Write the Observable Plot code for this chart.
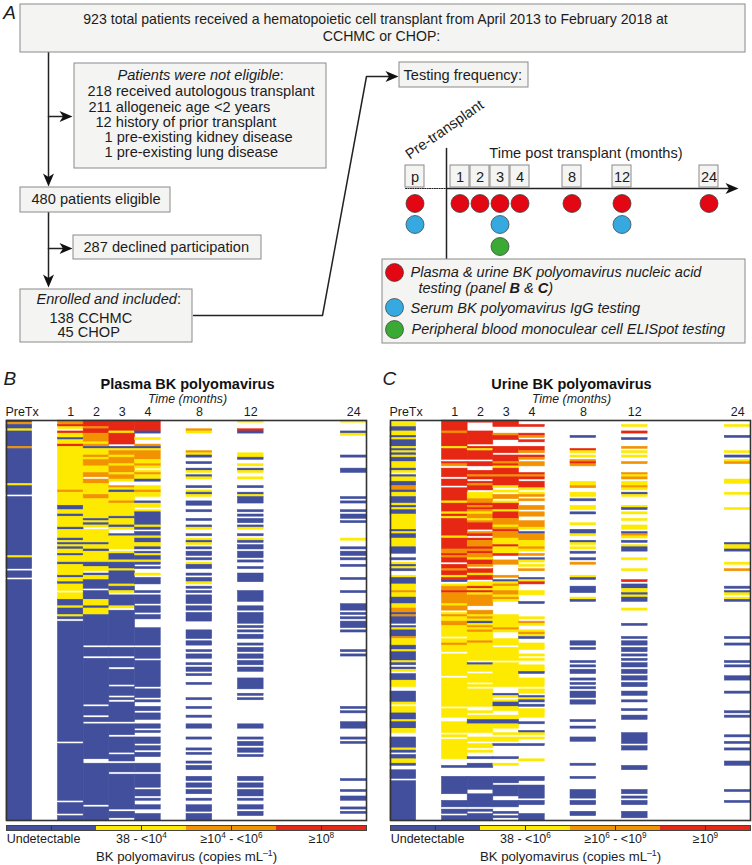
<!DOCTYPE html>
<html><head><meta charset="utf-8">
<script src="https://cdn.jsdelivr.net/npm/d3@7"></script>
<script src="https://cdn.jsdelivr.net/npm/@observablehq/plot@0.6"></script>
<style>
html,body{margin:0;padding:0;background:#fff}
#page{position:relative;width:752px;height:865px;overflow:hidden}
#page svg{position:absolute;background:transparent !important;font-family:"Liberation Sans",Arial,sans-serif !important;overflow:visible}
</style></head><body><div id="page"></div>
<script>
// ---------- data: every string lists "startRow+level" runs (u undetectable, y low, o mid, r high, _ no sample)
const columns = ["PreTx","gapA","1","2","3","4","gapB","8","gapC","12","gapD","gapE","gapF","24"];
const monthLabels = ["1","2","3","4","8","12","24"];
const levels = ["u","y","o","r"];
const levelColors = ["#414f9c","#fdea00","#f39200","#e52713"];

const plasmaPreTx = "0u 1o 2u 4y 5u 12o 13u 29y 30u 34_ 35u 62y 63u 68_ 69u 72_ 73u";
const plasmaM1 = "0o 2r 3y 4_ 5r 6y 8u 9y 11r 12y 32o 33y 39u 41y 43u 44y 49u 50y 54u 55y 56u 57y 58u 59y 61u 62y 65u 66y 71u 72y 74u 75y 78_ 79y 82u 85y 86u 89y 90u 91_ 92u 147_ 148u 174_ 175u 180_ 181u";
const plasmaM2 = "0r 3o 4r 6o 10y 11o 12u 13y 16o 17y 18o 21y 24o 26_ 27o 29y 34o 36y 45u 46y 47u 48y 49_ 50y 56u 57y 59u 60y 65u 67y 69_ 70u 71y 73u 77_ 78u 82y 85u 86y 89u 103_ 104u 108_ 109u 130_ 131u 135_ 136u 138_ 139u 155_ 157u 176_ 177u";
const plasmaM3 = "0r 5y 6r 11_ 12u 13y 14o 16y 17o 20y 21o 24y 25o 27y 28_ 30o 31y 32u 33y 37o 38y 44u 45y 48u 49y 50_ 52u 53y 59_ 60y 61u 64y 65u 68y 69u 75y 76u 78y 79_ 80u 85y 86_ 87u 103_ 104u 108_ 109u 113_ 114u 121_ 122u 126_ 127u 128_ 129u 138_ 139u 144_ 145u 152_ 153u 156_ 157u 161_ 162u 178_ 179u 182_";
const plasmaM4 = "0r 5u 6_ 8y 9_ 11o 12u 13y 14o 18y 20o 21y 22_ 23y 24o 25y 27u 28_ 30y 32o 33y 35_ 37u 38y 40_ 41y 42u 48y 49u 50_ 51u 53y 54u 56y 58u 59_ 60u 61y 62u 64y 65u 66_ 67u 68_ 70y 71_ 72u 75_ 78u 79_ 80u 84_ 85u 88_ 89u 91_ 95u 103_ 104u 109_ 110u 122_ 123u 127_ 128u 129_ 131u 133_ 134u 137_ 139u 141_ 142u 143_ 145u 148_ 149u 151_ 152u 154_ 157u 161_ 162u 168_ 169u 172_ 173u 174_ 176u 178_ 180u";
const plasmaM8 = "4o 5y 6_ 14o 15y 16u 17_ 19u 20_ 22u 23y 24_ 25u 26y 27_ 30u 31_ 32y 33u 34y 35_ 37u 39_ 41u 42_ 45u 46_ 48u 49y 50_ 52u 53_ 54y 55u 56y 57_ 58u 59_ 60u 62_ 63u 64_ 65y 66u 68_ 70u 71_ 72u 74y 75_ 76u 77_ 78u 79_ 80u 84_ 85u 87_ 88u 92_ 96u 100_ 101u 103_ 105u 106_ 107u 109_ 111u 112_ 113u 115_ 116u 117_ 120u 121_ 127u 128_ 131u 132_ 135u 136_ 139u 141_ 145u 146_ 150u 151_ 152u 153_ 156u 157_ 158u 160_ 163u 165_ 166u 168_ 169u 171_ 173u 174_ 176u 179_ 180u 183_";
const plasmaM12 = "0y 1_ 4r 5u 6_ 15y 17u 18_ 20y 21_ 22u 23y 24_ 26y 27_ 30u 31_ 33u 34y 35u 38_ 41u 42_ 43u 44_ 45u 47_ 48u 49y 50_ 52u 53_ 54y 55u 56_ 57u 59_ 60u 62_ 62u 63_ 64u 65_ 67u 68_ 70u 74_ 78u 83_ 85u 87_ 88u 93_ 94u 95_ 96u 97_ 98u 100_ 102u 103_ 104u 106_ 107u 109_ 110u 112_ 113u 115_ 118u 123_ 125u 126_ 127u 128_ 139u 141_ 145u 146_ 147u 149_ 150u 152_ 153u 154_ 163u 165_ 166u 168_ 169u 172_ 173u 174_ 176u 178_ 179u 181_";
const plasmaM24 = "0y 1_ 5u 6y 7_ 16u 17_ 22u 24_ 35u 36_ 37u 38_ 41u 42_ 43u 45_ 46u 47_ 54y 55_ 58u 59_ 60u 62_ 63u 64_ 66u 67_ 72u 73_ 78u 79_ 84u 87_ 88u 89_ 90u 91_ 92u 95_ 96u 97_ 105u 106_ 107u 108_ 131u 132_ 133u 134_ 138u 141_ 145u 146_ 147u 148_ 164u 165_ 169u 170_ 172u 174_ 177u 178_ 179u 180_";

const urinePreTx = "0_ 1y 3u 5y 7u 8y 9u 12y 13u 14y 15u 16y 17u 19y 22u 23y 24_ 25u 26y 28u 30o 32u 33y 35u 38y 39u 40y 41u 43y 50u 51y 52u 54y 58u 61_ 63u 64_ 65y 66u 67y 68u 69_ 71y 72u 74u 75y 78o 79y 81u 84y 86o 87y 87o 88u 89o 90u 93_ 94u 95y 96u 99o 100y 103u 105y 106u 110y 111u 112_ 113u 114y 115_ 116u 119y 122_ 124u 129y 130_ 131y 134u 137y 138u 141y 143_ 145u 150y 151u 152_ 153u 155y 157u 158_ 160u 164_ 165u";
const urineM1 = "0r 5o 6r 12y 13r 18_ 19r 20o 21_ 22r 26_ 27r 30_ 31r 37y 38r 42y 43r 44y 45r 53y 54r 59o 61r 62o 63r 65_ 66r 68o 69r 71y 72r 73u 74_ 75y 76o 78r 79o 84y 85o 87_ 88y 89o 90y 92o 94y 99_ 100y 102o 103y 106_ 107y 117_ 118y 131_ 132y 136_ 138y 143_ 144y 145_ 146y 155_ 158u 159_ 163u 171_ 174u 177_ 178u 180_ 181u";
const urineM2 = "0r 1_ 5r 11_ 12r 13y 14r 18_ 19r 21_ 23r 25o 26r 27_ 28r 29o 30r 32_ 33y 36o 38r 39o 40r 41o 42y 43o 45y 46o 47r 50_ 51o 52r 53_ 54r 55o 58r 59o 60r 61o 63y 64r 66o 67_ 68r 70y 71r 73_ 74y 76r 77y 78r 79y 80o 85_ 87o 89y 90o 91y 92u 93y 94o 95y 96o 97y 101o 102y 110_ 111u 112y 115_ 116y 120_ 121y 122_ 123y 131_ 133y 134_ 135y 137u 139y 143_ 145y 147_ 148y 150_ 151y 152_ 154u 155_ 157u 159_ 163u 169_ 171u 177_ 178u 179_ 180u";
const urineM3 = "0r 3_ 6o 7r 9_ 12r 15_ 16r 19o 20r 21y 22r 25o 26r 30y 31_ 32y 33_ 34o 36_ 37y 38r 41y 42r 45o 48y 49o 50r 51o 54y 57r 58y 61r 62_ 64o 66_ 71o 72_ 73u 74y 75o 76y 78o 80y 81o 82y 83_ 89y 95o 96y 97_ 100y 103_ 104y 110_ 111y 122_ 125u 126y 127_ 128y 129u 131y 133_ 135y 137u 139y 141_ 143y 144_ 145y 147_ 148u 149_ 154u 155_ 157y 158_ 163u 166_ 167u 172_ 174u 177_ 179u 180_ 181u 182_";
const urineM4 = "2r 3_ 6r 7o 8_ 9r 10_ 12r 14o 15_ 16r 17o 18_ 19o 21_ 24r 25o 26r 27_ 28r 31y 32_ 33y 34o 35_ 36o 37_ 39o 41_ 42o 44_ 46o 49y 50_ 51u 52o 55y 58o 59y 60_ 61o 62_ 63u 64y 65_ 66y 67_ 68o 69_ 72u 73y 74r 75_ 78y 80_ 83u 84_ 90y 91_ 92o 93y 94_ 96y 97o 98y 99u 100_ 102y 105_ 107y 108_ 109y 110_ 112y 115u 116_ 118y 122_ 123y 125_ 126u 127y 128u 129_ 130u 131_ 132y 136_ 138u 139_ 142u 143y 144_ 145y 146_ 148u 149_ 155y 156_ 163u 165_ 167u 173_ 174u 176_ 180u";
const urineM8 = "7u 8_ 13r 14y 15_ 16y 17_ 18o 19r 20o 21_ 28y 30o 31_ 33y 35_ 36u 37_ 39y 41_ 42u 43_ 47y 48_ 50u 52y 53_ 55u 56y 57_ 58y 59_ 60u 61_ 63u 64_ 65o 66_ 71y 72u 73_ 76u 79_ 81y 82u 83_ 101u 103_ 104u 105_ 110u 111_ 112u 113_ 114u 116_ 118u 119_ 120u 121_ 122u 123_ 124u 127_ 128u 130_ 137u 138_ 140u 141_ 145u 147_ 157u 158_ 163u 164_ 169u 173_ 174u 176_ 179u 181_";
const urineM12 = "2y 3_ 5r 6_ 8u 9_ 12o 13_ 14y 15_ 16y 17_ 19o 20_ 24o 25y 26o 27_ 28y 30o 31y 32_ 33u 34y 35_ 39y 40u 41_ 42y 43_ 45y 46_ 48y 50_ 51u 52o 53y 54_ 55u 56_ 57y 58u 60_ 63y 64_ 68y 69_ 73r 74_ 75u 77y 79u 80y 81u 83_ 86y 87_ 93u 94_ 99u 100_ 101u 103_ 104u 106_ 107u 108_ 109u 110_ 111u 113_ 114u 116_ 117u 119_ 120u 122_ 124u 126_ 128u 129_ 132u 133_ 135u 137_ 143u 148_ 149u 151_ 158u 160_ 169u 171_ 172u 173_ 174u 176_ 179u 182_";
const urineM24 = "2y 3_ 7u 8_ 14y 15_ 16u 17_ 18y 19o 20_ 27y 29_ 33y 34_ 40y 41_ 56u 57y 59u 60_ 65y 66_ 68o 69_ 76u 77_ 78u 79y 80_ 81y 82u 83_ 99u 100_ 102u 103_ 110u 111_ 112u 113_ 117u 119_ 124u 125_ 133u 134_ 135u 136_ 144u 145_ 147u 148_ 150u 151_ 156u 158_ 169u 170_ 174u 175_";

const plasmaColumns = [plasmaPreTx,plasmaM1,plasmaM2,plasmaM3,plasmaM4,plasmaM8,plasmaM12,plasmaM24];
const urineColumns = [urinePreTx,urineM1,urineM2,urineM3,urineM4,urineM8,urineM12,urineM24];
const sampled = ["PreTx","1","2","3","4","8","12","24"];
const patientCount = 183;

const plasmaLegend = ["Undetectable","38 - <10^4^","≥10^4^ - <10^6^","≥10^8^"];
const urineLegend = ["Undetectable","38 - <10^6^","≥10^6^ - <10^9^","≥10^9^"];

const timelineBoxes = ["p","1","2","3","4","8","12","24"];
const pcrTimes = ["p","1","2","3","4","8","12","24"];
const iggTimes = ["p","3","12"];
const elispotTimes = ["3"];

const flowHeader = ["923 total patients received a hematopoietic cell transplant from April 2013 to February 2018 at","CCHMC or CHOP:"];
const flowLines = [
 "218 received autologous transplant","211 allogeneic age <2 years","12 history of prior transplant",
 "1 pre-existing kidney disease","1 pre-existing lung disease",
 "480 patients eligible","287 declined participation","138 CCHMC","45 CHOP","Testing frequency:"];
const flowItalic = ["Patients were not eligible__:__","Enrolled and included__:__"];
const keyLines = ["Plasma & urine BK polyomavirus nucleic acid","testing (panel **B** & **C**)","Serum BK polyomavirus IgG testing","Peripheral blood monoculear cell ELISpot testing"];

// ---------- helpers
const ink = "#1c1c1c";
const page = document.getElementById("page");
function place(svg,left,top){svg.style.left=left+"px";svg.style.top=top+"px";page.appendChild(svg);
  svg.querySelectorAll("text").forEach(rich);return svg;}
function rich(t){
  const host = t.querySelector("tspan") || t;
  const s = host.textContent;
  if(!/\*\*|\^|__/.test(s)) return;
  host.textContent="";
  const fs = parseFloat(t.getAttribute("font-size")||t.parentNode.getAttribute("font-size")||11);
  let pendingDy=0;
  s.split(/(\*\*.+?\*\*|\^.+?\^|__.+?__)/).filter(Boolean).forEach(p=>{
    const n=document.createElementNS("http://www.w3.org/2000/svg","tspan");
    if(pendingDy){n.setAttribute("dy",pendingDy);pendingDy=0;}
    if(p.startsWith("**")){n.textContent=p.slice(2,-2);n.setAttribute("font-weight","bold");}
    else if(p.startsWith("__")){n.textContent=p.slice(2,-2);n.setAttribute("font-style","normal");}
    else if(p.startsWith("^")){n.textContent=p.slice(1,-1);n.setAttribute("font-size",fs*0.66);
      const up=-fs*0.36;n.setAttribute("dy",up);pendingDy=-up;}
    else n.textContent=p;
    host.appendChild(n);
  });
}
// one column string -> runs of equal level, so a run paints as one unbroken bar
function expand(spec,col){
  const tokens=spec.split(" ").map(t=>({start:+t.slice(0,-1),level:t.slice(-1)}));
  const runs=[];
  for(let row=0;row<patientCount;row++){
    let level="_";
    for(const r of tokens) if(r.start<=row) level=r.level;
    const last=runs[runs.length-1];
    if(last&&last.level==level) last.end=row+1;
    else runs.push({col,level,start:row,end:row+1});
  }
  return runs.filter(r=>r.level!="_");
}

// ---------- flow chart (panel A)
const bx=[[20,745,4,52],[74,326,63,168],[20,170,187,212],[73,261,235,259],[20,192,289,342],[399,528,62,87],[382,745,259,343]]
  .map(([x1,x2,y1,y2])=>({x1,x2,y1,y2}));
const headerAt=[[375,18.5],[381,36]];
const headerData=flowHeader.map((text,i)=>({text,x:headerAt[i][0],y:headerAt[i][1]}));
const lineAt=[[87,91],[88,107],[95,122],[104,137],[104,152],[31,199],[83,247],[49,318],[57,332],[403,75]];
const flowData=flowLines.map((text,i)=>({text,x:lineAt[i][0],y:lineAt[i][1]}));
const italicAt=[[117,75],[36,299]];
const italicData=flowItalic.map((text,i)=>({text,x:italicAt[i][0],y:italicAt[i][1]}));
const keyAt=[[410,272],[418,288],[410,308],[411,329]];
const keyData=keyLines.map((text,i)=>({text,x:keyAt[i][0],y:keyAt[i][1]}));
const tx={p:414.5,"1":459.5,"2":479.5,"3":499.5,"4":519.5,"8":571.5,"12":621.5,"24":708.5};
const keyDots=[{c:"#e30613",y:272},{c:"#36a9e1",y:307},{c:"#3aaa35",y:329}];
const head={draw(c){c.moveTo(0,0);c.lineTo(5.5,13);c.lineTo(0,9.5);c.lineTo(-5.5,13);c.closePath();}};
const heads=[{x:48,y:186,r:180},{x:72,y:116,r:90},{x:48,y:287,r:180},{x:72,y:248,r:90},{x:398,y:76,r:90},{x:738,y:188,r:90}];
const polylines=[[[48,52],[48,180]],[[48,116],[66,116]],[[48,212],[48,280]],[[48,248],[66,248]],
  [[193,315],[322,315],[366,76],[392,76]],[[446,148],[446,259]],[[446,188],[730,188]]];
const lineData=polylines.flatMap((p,i)=>p.map(([x,y])=>({x,y,i})));
const fz=14.6;

const flow=Plot.plot({width:752,height:360,margin:0,
  x:{domain:[0,752],range:[0,752],axis:null},y:{domain:[0,360],range:[0,360],axis:null},
  marks:[
    Plot.line(lineData,{x:"x",y:"y",z:"i",stroke:"#222",strokeWidth:1.5}),
    Plot.line([{x:405,y:188},{x:446,y:188}],{x:"x",y:"y",stroke:"#222",strokeWidth:1,strokeDasharray:"1.2,1.2"}),
    Plot.dot(heads,{x:"x",y:"y",rotate:"r",symbol:head,fill:"#111",stroke:"none"}),
    Plot.rect(bx,{x1:"x1",x2:"x2",y1:"y1",y2:"y2",fill:"#f4f4f3",stroke:"#8a8a8a",strokeWidth:1}),
    Plot.rect(timelineBoxes,{x1:d=>tx[d]-9.5,x2:d=>tx[d]+9.5,y1:()=>165,y2:()=>187,fill:"#f4f4f3",stroke:"#8a8a8a",strokeWidth:1}),
    Plot.text(timelineBoxes,{x:d=>tx[d],y:()=>176.5,text:d=>d,fontSize:fz,fill:ink}),
    Plot.text(headerData,{x:"x",y:"y",text:"text",fontSize:14.1,fill:ink}),
    Plot.text(flowData,{x:"x",y:"y",text:"text",textAnchor:"start",fontSize:fz,fill:ink}),
    Plot.text(italicData,{x:"x",y:"y",text:"text",textAnchor:"start",fontStyle:"italic",fontSize:fz,fill:ink}),
    Plot.text(keyData,{x:"x",y:"y",text:"text",textAnchor:"start",fontStyle:"italic",fontSize:14.5,fill:ink}),
    Plot.text(["A"],{x:()=>9,y:()=>12,text:d=>d,fontStyle:"italic",fontSize:19,fill:ink}),
    Plot.text(["Pre-transplant"],{x:()=>444,y:()=>129,text:d=>d,rotate:-35,fontSize:fz,fill:ink}),
    Plot.text(["Time post transplant (months)"],{x:()=>585.5,y:()=>153,text:d=>d,fontSize:fz,fill:ink}),
    Plot.dot(pcrTimes,{x:d=>tx[d],y:()=>203,r:9,fill:"#e30613",stroke:"#333",strokeWidth:.7}),
    Plot.dot(iggTimes,{x:d=>tx[d],y:()=>224,r:9,fill:"#36a9e1",stroke:"#333",strokeWidth:.7}),
    Plot.dot(elispotTimes,{x:d=>tx[d],y:()=>246,r:9,fill:"#3aaa35",stroke:"#333",strokeWidth:.7}),
    Plot.dot(keyDots,{x:()=>394,y:"y",r:9,fill:"c",stroke:"#333",strokeWidth:.7})
  ]});
place(flow,0,0);

// ---------- heat maps (panels B and C)
function heatmap(title,specs,letter,marginLeft,marginRight,letterDx,labelDx){
  const runs=specs.flatMap((spec,c)=>expand(spec,sampled[c]));
  return Plot.plot({width:376,height:456,marginTop:55,marginBottom:1,marginLeft,marginRight,
    x:{domain:columns,padding:0,round:false},
    y:{domain:[patientCount,0],axis:null},
    color:{domain:levels,range:levelColors},
    marks:[
      Plot.barY(runs,{x:"col",y1:"start",y2:"end",fill:"level",stroke:"level",strokeWidth:.5,inset:0}),
      Plot.frame({stroke:"#333",strokeWidth:1.6}),
      Plot.axisX({anchor:"top",ticks:monthLabels,tickSize:0,tickPadding:4.5,label:null,fontSize:12.5,fill:ink}),
      Plot.text(["PreTx"],{x:()=>"PreTx",frameAnchor:"top",dy:-13,dx:labelDx,text:d=>d,fontSize:12.5,fill:ink}),
      Plot.text(["Time (months)"],{frameAnchor:"top",dy:-26,dx:1,text:d=>d,fontStyle:"italic",fontSize:12.3,fill:ink}),
      Plot.text([title],{frameAnchor:"top",dy:-42,dx:1,text:d=>d,fontWeight:"bold",fontSize:14.5,fill:"#111"}),
      Plot.text([letter],{frameAnchor:"top-left",dx:letterDx,dy:-49,text:d=>d,fontStyle:"italic",fontSize:19,fill:ink})
    ]});
}
function legend(labels,marginLeft,marginRight){
  const items=levels.map((l,i)=>({l,label:labels[i]}));
  return Plot.plot({width:376,height:45,marginTop:5,marginBottom:35,marginLeft,marginRight,
    x:{domain:levels,padding:0,round:false,axis:null},y:{axis:null},
    color:{domain:levels,range:levelColors},
    marks:[
      Plot.cell(levels,{x:d=>d,fill:d=>d}),
      Plot.ruleX(levels,{x:d=>d,stroke:"#333",strokeWidth:1}),
      Plot.frame({stroke:"#444",strokeWidth:1}),
      Plot.text(items.slice(1),{x:"l",frameAnchor:"bottom",dy:12,text:"label",fontSize:12.5,fill:ink}),
      Plot.text(items.slice(0,1),{x:"l",frameAnchor:"bottom",dy:12,dx:-8,text:"label",fontSize:12.5,fill:ink}),
      Plot.text(["BK polyomavirus (copies mL^–1^)"],{frameAnchor:"bottom",dy:30,text:d=>d,fontSize:13.2,fill:ink})
    ]});
}
place(heatmap("Plasma BK polyomavirus",plasmaColumns,"B",6,10,-3,2.7),0,365);
place(heatmap("Urine BK polyomavirus",urineColumns,"C",14,2,-8,2.7),376,365);
place(legend(plasmaLegend,6,10),0,820);
place(legend(urineLegend,14,2),376,820);
</script></body></html>
